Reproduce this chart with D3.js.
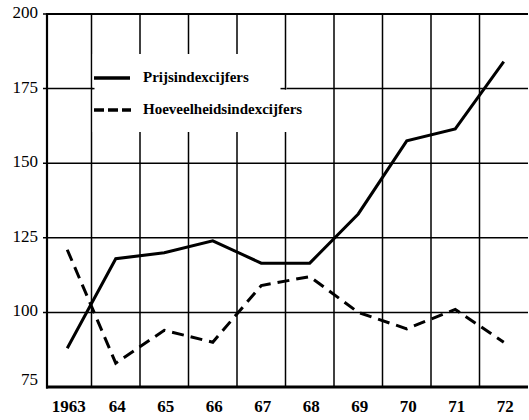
<!DOCTYPE html>
<html>
<head>
<meta charset="utf-8">
<script src="https://cdn.jsdelivr.net/npm/d3@7"></script>
<style>
  html, body { margin: 0; padding: 0; background: #fff; }
  svg { display: block; }
</style>
</head>
<body>
<svg id="chart" width="529" height="420"></svg>
<script>
const categories = ["1963", "64", "65", "66", "67", "68", "69", "70", "71", "72"];
const prijsValues = [88, 118, 120, 124, 116.5, 116.5, 133, 157.5, 161.5, 184];
const hoeveelheidValues = [121, 83, 94, 90, 109, 112, 100, 94.5, 101, 90];
const yTicks = [75, 100, 125, 150, 175, 200];
const seriesNames = ["Prijsindexcijfers", "Hoeveelheidsindexcijfers"];

(function () {
const FONT = "'Liberation Serif', 'DejaVu Serif', serif";
const svg = d3.select("#chart").attr("font-family", FONT);
const pL = 47, pR = 528, pT = 14, pB = 387;

const x = d3.scaleBand().domain(categories).range([43, 528]).paddingInner(0).paddingOuter(0);
const y = d3.scaleLinear().domain([75, 200]).range([pB, pT]);
const cx = d => x(d) + x.bandwidth() / 2;

const grid = svg.append("g").attr("stroke", "#000").attr("fill", "none");

yTicks.filter(t => t > 75 && t < 200).forEach(t => {
  grid.append("line")
    .attr("x1", pL - 4).attr("x2", pR)
    .attr("y1", y(t)).attr("y2", y(t))
    .attr("stroke-width", 1.5);
});
categories.slice(1).forEach(c => {
  grid.append("line")
    .attr("x1", x(c)).attr("x2", x(c))
    .attr("y1", pT).attr("y2", pB)
    .attr("stroke-width", 1.5);
});

const lgX0 = x("64") + 1.2, lgX1 = x("68") + 1.5;
svg.append("rect").attr("x", lgX0).attr("y", 54).attr("width", lgX1 - lgX0).attr("height", 78).attr("fill", "#fff");
svg.append("line").attr("x1", x("68")).attr("x2", x("68")).attr("y1", 54).attr("y2", y(175) + 1)
  .attr("stroke", "#000").attr("stroke-width", 1.5);
svg.append("line").attr("x1", x("68") - 5).attr("x2", x("68") + 1).attr("y1", y(175)).attr("y2", y(175))
  .attr("stroke", "#000").attr("stroke-width", 1.5);
svg.append("line").attr("x1", x("64")).attr("x2", x("64") + 3).attr("y1", y(175)).attr("y2", y(175))
  .attr("stroke", "#000").attr("stroke-width", 1.5);

svg.append("line").attr("x1", pL).attr("x2", pL).attr("y1", pT - 1).attr("y2", pB + 1.5)
  .attr("stroke", "#000").attr("stroke-width", 2.2);
svg.append("line").attr("x1", pL - 1).attr("x2", pR).attr("y1", pT).attr("y2", pT)
  .attr("stroke", "#000").attr("stroke-width", 2.2);
svg.append("line").attr("x1", pL - 1).attr("x2", pR).attr("y1", pB).attr("y2", pB)
  .attr("stroke", "#000").attr("stroke-width", 3);
[200].forEach(t => svg.append("line").attr("x1", pL - 4).attr("x2", pL).attr("y1", y(t)).attr("y2", y(t)).attr("stroke", "#000").attr("stroke-width", 1.5));

svg.append("g").selectAll("text").data(yTicks).join("text")
  .attr("x", 38)
  .attr("y", d => Math.min(y(d) + 4, 385))
  .attr("text-anchor", "end")
  .attr("font-family", FONT)
  .attr("font-size", 17)
  .text(d => d);

svg.append("g").selectAll("text").data(categories).join("text")
  .attr("x", d => cx(d) + 1.5)
  .attr("y", 412)
  .attr("text-anchor", "middle")
  .attr("font-family", FONT)
  .attr("font-size", 17)
  .attr("font-weight", "bold")
  .text(d => d);

const line = d3.line().x((d, i) => cx(categories[i])).y(d => y(d));
svg.append("path").datum(prijsValues)
  .attr("d", line).attr("fill", "none").attr("stroke", "#000")
  .attr("stroke-width", 3).attr("stroke-linejoin", "miter");
svg.append("path").datum(hoeveelheidValues)
  .attr("d", line).attr("fill", "none").attr("stroke", "#000")
  .attr("stroke-width", 3).attr("stroke-dasharray", "12,7");

const lg = svg.append("g");
lg.append("line").attr("x1", 94).attr("x2", 130).attr("y1", 78).attr("y2", 78)
  .attr("stroke", "#000").attr("stroke-width", 3.5);
lg.append("line").attr("x1", 94).attr("x2", 131).attr("y1", 110).attr("y2", 110)
  .attr("stroke", "#000").attr("stroke-width", 3.5).attr("stroke-dasharray", "10,4");
lg.append("text").attr("x", 143).attr("y", 82).attr("font-family", FONT).attr("font-size", 15).attr("font-weight", "bold").text(seriesNames[0]);
lg.append("text").attr("x", 143).attr("y", 114).attr("font-family", FONT).attr("font-size", 15).attr("font-weight", "bold").text(seriesNames[1]);
})();
</script>
</body>
</html>
